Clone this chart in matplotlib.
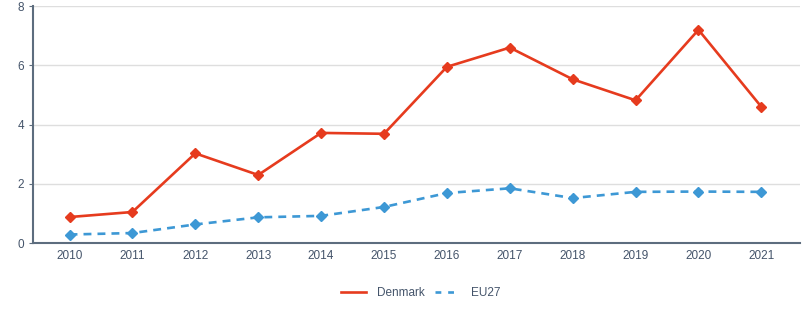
import matplotlib
matplotlib.use("Agg")
import matplotlib.pyplot as plt

plt.rcParams["font.family"] = ["Liberation Sans", "DejaVu Sans"]

years = ["2010", "2011", "2012", "2013", "2014", "2015",
         "2016", "2017", "2018", "2019", "2020", "2021"]
denmark = [0.88, 1.05, 3.03, 2.30, 3.72, 3.69, 5.95, 6.60, 5.53, 4.82, 7.20, 4.60]
eu27 = [0.29, 0.34, 0.63, 0.87, 0.92, 1.22, 1.69, 1.85, 1.52, 1.73, 1.74, 1.73]
yticks = [0, 2, 4, 6, 8]

red = "#e63b1e"
blue = "#3d98d5"
axis_col = "#5d6d7e"
text_col = "#44546a"

fig = plt.figure(figsize=(8.06, 3.22), dpi=100)
ax = fig.add_axes([0.041, 0.245, 0.952, 0.736])

x = list(range(len(years)))
ax.plot(x, denmark, color=red, lw=1.9, marker="D", ms=5.5, label="Denmark", zorder=3)
ax.plot(x, eu27, color=blue, lw=1.9, ls=(0, (3, 2.3)), marker="D", ms=5.5, label="EU27", zorder=3)

ax.set_xlim(-0.58, 11.62)
ax.set_ylim(0, 8)
ax.set_xticks(x)
ax.set_xticklabels(years)
ax.set_yticks(yticks)
ax.yaxis.grid(True, color="#dedede", lw=1)
ax.set_axisbelow(True)

for s in ["top", "right"]:
    ax.spines[s].set_visible(False)
for s in ["left", "bottom"]:
    ax.spines[s].set_color(axis_col)
    ax.spines[s].set_linewidth(1.5)
ax.tick_params(axis="both", colors=axis_col, labelcolor=text_col, labelsize=8.5, length=3)
ax.tick_params(axis="x", length=0, pad=5)

fig.legend(loc="center", bbox_to_anchor=(0.522, 0.09), ncol=2, frameon=False,
           fontsize=8.5, labelcolor=text_col, handlelength=2.1, handletextpad=0.9,
           columnspacing=0.9,
           handles=[plt.Line2D([], [], color=red, lw=1.9),
                    plt.Line2D([], [], color=blue, lw=1.9, ls=(0, (2.2, 2.6)))],
           labels=["Denmark", "EU27"])

fig.savefig("out.png", dpi=100)
